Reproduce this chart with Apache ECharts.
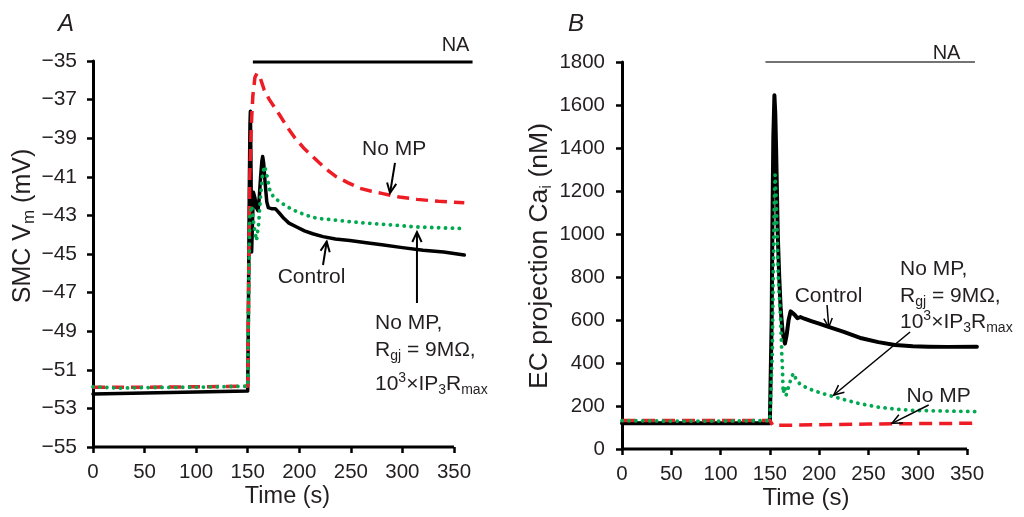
<!DOCTYPE html>
<html><head><meta charset="utf-8">
<script src="https://cdn.jsdelivr.net/npm/echarts/dist/echarts.min.js"></script>
<style>html,body{margin:0;padding:0;background:#fff}#main{width:1024px;height:517px}</style>
</head><body><div id="main"></div>
<script>
const FONT = '"Liberation Sans", Arial, Helvetica, sans-serif';
const TXT = '#231f20';
const RED = '#ee1c25';
const GREEN = '#00a94f';

// ---------- Panel A : SMC Vm (mV) ----------
const timeA_control = [0,50,100,150,150.7,151.5,152.2,152.6,153.1,153.8,154.6,155.5,157,158.5,160,161.3,162.5,163.7,164.5,165.5,167,168.5,170,173,176.5,178.5,181,185,190,197.5,205,213,223,235,249,265,280,300,320,340,360];
const vmA_control   = [-52.25,-52.2,-52.15,-52.1,-48,-42,-38.3,-37.6,-40,-44.9,-43.4,-41.8,-42.1,-42.6,-42.75,-42.0,-41.0,-40.2,-39.95,-40.3,-41.4,-42.3,-42.6,-42.65,-42.65,-42.75,-42.9,-43.15,-43.4,-43.6,-43.8,-43.95,-44.1,-44.22,-44.3,-44.42,-44.52,-44.67,-44.8,-44.9,-45.05];
const timeA_noMP = [0,50,100,150,151,152,153.5,155,157,159,162,166,171,176,181,188,196,205,215,225,236,247,259,270,281,297,314,335,360];
const vmA_noMP   = [-51.9,-51.9,-51.88,-51.85,-46,-41,-38.3,-36.8,-35.85,-35.64,-35.85,-36.5,-37.0,-37.4,-37.8,-38.4,-39.0,-39.55,-40.05,-40.55,-41.0,-41.3,-41.6,-41.75,-41.87,-42.05,-42.17,-42.27,-42.35];
const timeA_noMPRgj = [0,25,50,100,150,151,152,154,156,158.5,160.5,162.5,164.5,166.5,168.5,171.5,175,181,190,197.5,207,217,236,250,265,290,314,340,360];
const vmA_noMPRgj   = [-51.88,-51.95,-51.92,-51.9,-51.85,-47,-43,-42.5,-43.5,-44.3,-43.5,-42.0,-40.8,-40.45,-40.9,-41.7,-42.05,-42.3,-42.6,-42.8,-43.0,-43.15,-43.25,-43.33,-43.4,-43.5,-43.6,-43.65,-43.68];

// ---------- Panel B : EC projection Ca_i (nM) ----------
const timeB_control = [0,50,100,150,150.8,151.8,152.5,153.5,154.6,155.5,156.3,158,159.5,161,163,165.3,167,169,171,172.2,175,178,181,185,192,200,208,225,243,260,277,295,311,330,360];
const caB_control   = [120,120,120,120,125,600,1000,1450,1645,1560,1400,1000,800,650,540,490,530,600,640,646,625,608,614,606,595,583,570,545,515,497,484,478,476,475,476];
const timeB_noMP = [0,50,100,150,151.5,153,160,200,250,300,360];
const caB_noMP   = [133,133,133,133,125,110,110,113,116,118,120];
const timeB_noMPRgj = [0,50,100,150,151.5,152.5,153.5,154.5,155.3,156.5,157.5,158.6,160,161,162,162.8,163.5,165,166.5,169,172,174,177,181,186,193,202,212,225,240,260,278,295,311,335,360];
const caB_noMPRgj   = [132,130,130,132,135,450,850,1150,1275,1150,980,790,680,600,450,367,260,290,250,290,335,352,320,300,288,274,260,247,230,212,195,185,180,178,176,174];

// axis tick values
const xTickValues = [0, 50, 100, 150, 200, 250, 300, 350];
const xRange = {min: 0, max: 360};
const yTicksA = {min: -55, max: -35, interval: 2};
const yTicksB = {min: 0, max: 1800, interval: 200};

const zip = (t, v) => t.map((x, i) => [x, v[i]]);
const minusFmt = v => v < 0 ? '\u2212' + Math.abs(v) : String(v);

function xAxisCfg(gi) {
  return {
    gridIndex: gi, type: 'value', min: xRange.min, max: xRange.max,
    axisLine: {show: false},
    axisTick: {show: true, length: 6, customValues: xTickValues, lineStyle: {color: '#000', width: 2.5}},
    axisLabel: {fontSize: 20.5, fontFamily: FONT, color: TXT, margin: 15, customValues: xTickValues},
    splitLine: {show: false}
  };
}
function yAxisCfg(gi, t, fmt, size, margin) {
  return {
    gridIndex: gi, type: 'value', min: t.min, max: t.max, interval: t.interval,
    axisLine: {show: true, lineStyle: {color: '#000', width: 3}},
    axisTick: {show: true, length: 6, lineStyle: {color: '#000', width: 2.5}},
    axisLabel: {fontSize: size, fontFamily: FONT, color: TXT, margin: margin, formatter: fmt},
    splitLine: {show: false}
  };
}
function lineSeries(xi, data, color, width, type, cap, z) {
  return {
    type: 'line', xAxisIndex: xi, yAxisIndex: xi, data: data, showSymbol: false, symbol: 'none',
    clip: false, z: z, animation: false,
    lineStyle: {color: color, width: width, type: type, cap: cap, join: 'round'}
  };
}

const chart = echarts.init(document.getElementById('main'), null, {renderer: 'canvas'});
chart.setOption({
  animation: false,
  backgroundColor: '#fff',
  grid: [
    {left: 93, top: 61, width: 371.3, height: 386},
    {left: 622, top: 62, width: 354.9, height: 387}
  ],
  xAxis: [xAxisCfg(0), xAxisCfg(1)],
  yAxis: [yAxisCfg(0, yTicksA, minusFmt, 21, 16), yAxisCfg(1, yTicksB, v => String(v), 20.5, 17)],
  series: [
    lineSeries(0, zip(timeA_control, vmA_control), '#000', 3.5, 'solid', 'round', 2),
    lineSeries(0, zip(timeA_noMP, vmA_noMP), RED, 3.5, [12, 7], 'butt', 3),
    lineSeries(0, zip(timeA_noMPRgj, vmA_noMPRgj), GREEN, 3.8, [0.1, 6.8], 'round', 4),
    lineSeries(1, zip(timeB_control, caB_control), '#000', 4, 'solid', 'round', 2),
    lineSeries(1, zip(timeB_noMP, caB_noMP), RED, 3.5, [13, 7], 'butt', 3),
    lineSeries(1, zip(timeB_noMPRgj, caB_noMPRgj), GREEN, 3.8, [0.1, 6.8], 'round', 4)
  ]
});

// ---------- annotations (positions given in data coordinates) ----------
const P = (gi, t, v) => chart.convertToPixel({gridIndex: gi}, [t, v]);
const RICH = {
  sub: {fontSize: 14, fontFamily: FONT, fill: TXT, verticalAlign: 'bottom', lineHeight: 14},
  sup: {fontSize: 14, fontFamily: FONT, fill: TXT, verticalAlign: 'top', lineHeight: 14},
  bsub: {fontSize: 17, fontFamily: FONT, fill: TXT, verticalAlign: 'bottom', lineHeight: 16}
};

function arrowEls(p1, p2, w, color, head) {
  const dx = p2[0] - p1[0], dy = p2[1] - p1[1];
  const L = Math.hypot(dx, dy), ux = dx / L, uy = dy / L;
  const a = 25 * Math.PI / 180;
  const rot = ang => [ux * Math.cos(ang) - uy * Math.sin(ang), ux * Math.sin(ang) + uy * Math.cos(ang)];
  const r1 = rot(a), r2 = rot(-a);
  return [
    {type: 'polyline', shape: {points: [p1, p2]}, style: {stroke: color, lineWidth: w, fill: 'none'}, z: 10},
    {type: 'polyline', shape: {points: [[p2[0] - head * r1[0], p2[1] - head * r1[1]], p2, [p2[0] - head * r2[0], p2[1] - head * r2[1]]]},
     style: {stroke: color, lineWidth: w, fill: 'none'}, z: 10}
  ];
}
function textEl(p, text, size, align, extra) {
  return {
    type: 'text', x: p[0], y: p[1], z: 10, rotation: (extra && extra.rotation) || 0,
    style: Object.assign({text: text, fontSize: size, fontFamily: FONT, fill: TXT, align: align, verticalAlign: 'middle',
            lineHeight: 26, rich: RICH}, (extra && extra.style) || {})
  };
}
function lineEl(p1, p2, w, color) {
  return {type: 'line', shape: {x1: p1[0], y1: p1[1], x2: p2[0], y2: p2[1]}, style: {stroke: color, lineWidth: w, lineCap: 'butt'}, z: 10};
}

const g = [];
// panel letters
g.push(textEl([66, 24], 'A', 24, 'center', {style: {fontStyle: 'italic'}}));
g.push(textEl([576, 24], 'B', 24, 'center', {style: {fontStyle: 'italic'}}));

// axis titles
g.push(textEl([23, 226], 'SMC V{bsub|m} (mV)', 25, 'center', {rotation: Math.PI / 2, style: {lineHeight: 30}}));
g.push(textEl([540, 256], 'EC projection Ca{bsub|i} (nM)', 26.5, 'center', {rotation: Math.PI / 2, style: {lineHeight: 30}}));
g.push(textEl([287.5, 497], 'Time (s)', 23.5, 'center'));
g.push(textEl([806, 498], 'Time (s)', 24, 'center'));

// x axis lines (0 .. 350)
g.push(lineEl(P(0, 0, -55), P(0, 350, -55), 3, '#000'));
g.push(lineEl(P(1, 0, 0), P(1, 350, 0), 3, '#000'));

// NA bars
g.push(lineEl(P(0, 155, -35.05), P(0, 368, -35.05), 3, '#000'));
g.push(textEl(P(0, 351.5, -34.2), 'NA', 20, 'center'));
g.push(lineEl(P(1, 145.5, 1800), P(1, 358, 1800), 1.4, '#444'));
g.push(textEl(P(1, 329.2, 1840), 'NA', 20, 'center'));

// Panel A labels
g.push(textEl(P(0, 292, -39.56), 'No MP', 21, 'center'));
g.push(...arrowEls(P(0, 292.8, -40.28), P(0, 288, -41.84), 2, '#000', 11));
g.push(textEl(P(0, 211.9, -46.19), 'Control', 21, 'center'));
g.push(...arrowEls(P(0, 223, -45.57), P(0, 226.6, -44.36), 2, '#000', 11));
g.push(...arrowEls(P(0, 314.1, -47.54), P(0, 314.1, -43.86), 2, '#000', 11));
g.push(textEl(P(0, 273.4, -48.6), 'No MP,', 21, 'left'));
g.push(textEl(P(0, 273.4, -49.97), 'R{sub|gj} = 9M\u03a9,', 21, 'left'));
g.push(textEl(P(0, 273.4, -51.74), '10{sup|3}\u00d7IP{sub|3}R{sub|max}', 21, 'left'));

// Panel B labels
g.push(textEl(P(1, 282, 838), 'No MP,', 21, 'left'));
g.push(textEl(P(1, 282, 713), 'R{sub|gj} = 9M\u03a9,', 21, 'left'));
g.push(textEl(P(1, 282, 588), '10{sup|3}\u00d7IP{sub|3}R{sub|max}', 21, 'left'));
g.push(textEl(P(1, 209.5, 712), 'Control', 21, 'center'));
g.push(...arrowEls(P(1, 208, 670), P(1, 209.7, 566), 1.5, '#000', 10));
g.push(...arrowEls(P(1, 292.2, 544), P(1, 214.8, 251), 1.5, '#000', 11));
g.push(textEl(P(1, 321.1, 246.5), 'No MP', 21, 'center'));
g.push(...arrowEls(P(1, 311.1, 204.7), P(1, 273.9, 119.5), 1.5, '#000', 11));

chart.setOption({graphic: g});
</script>
</body></html>
